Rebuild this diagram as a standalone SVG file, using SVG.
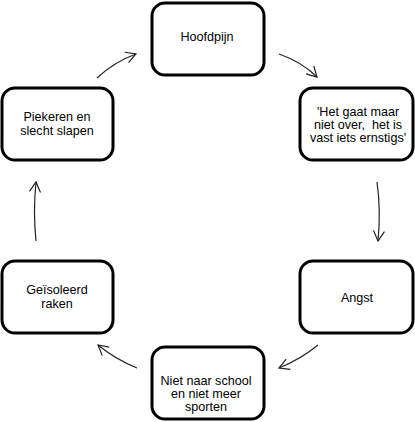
<svg xmlns="http://www.w3.org/2000/svg" width="415" height="422" viewBox="0 0 415 422">
<style>
.box{fill:#fff;stroke:#000;stroke-width:3}
.t{font-family:"Liberation Sans",Arial,sans-serif;font-size:12.6px;fill:#000;text-anchor:middle;white-space:pre}
.c{fill:none;stroke:#222;stroke-width:1.2;marker-end:url(#ah)}
</style>
<defs>
<marker id="ah" markerUnits="userSpaceOnUse" markerWidth="14" markerHeight="14" viewBox="-12 -7 14 14" refX="0" refY="0" orient="auto">
<path d="M-10,-5.5 L0,0 L-10,5.5" fill="none" stroke="#222" stroke-width="1.2"/>
</marker>
</defs>
<rect width="415" height="422" fill="#fff"/>
<g id="connectors">
<path class="c" d="M97,78 Q114,62 136,54"/>
<path class="c" d="M279,54 Q302,62 317,77"/>
<path class="c" d="M377,182 Q381,210 378,241"/>
<path class="c" d="M318,345 Q301,359 279,368"/>
<path class="c" d="M137,368 Q115,359 98,345"/>
<path class="c" d="M36,241 Q33,212 36,182"/>
</g>
<g id="hoofdpijn">
<rect class="box" x="152" y="3" width="112" height="72" rx="13"/>
<text class="t" x="207" y="41">Hoofdpijn</text>
</g>
<g id="hetgaat">
<rect class="box" x="300" y="88" width="113" height="72" rx="13"/>
<text class="t" x="358" y="116">'Het gaat maar</text>
<text class="t" x="358" y="129">niet over,  het is</text>
<text class="t" x="358" y="142">vast iets ernstigs'</text>
</g>
<g id="angst">
<rect class="box" x="300" y="261" width="113" height="72" rx="13"/>
<text class="t" x="357" y="302">Angst</text>
</g>
<g id="nietnaar">
<rect class="box" x="152" y="347" width="112" height="72" rx="13"/>
<text class="t" x="206" y="385">Niet naar school</text>
<text class="t" x="206" y="398">en niet meer</text>
<text class="t" x="206" y="411">sporten</text>
</g>
<g id="geisoleerd">
<rect class="box" x="2" y="261" width="111" height="72" rx="13"/>
<text class="t" x="57" y="294">Geïsoleerd</text>
<text class="t" x="57" y="308">raken</text>
</g>
<g id="piekeren">
<rect class="box" x="2" y="88" width="111" height="72" rx="13"/>
<text class="t" x="57" y="121">Piekeren en</text>
<text class="t" x="57" y="135">slecht slapen</text>
</g>
</svg>
